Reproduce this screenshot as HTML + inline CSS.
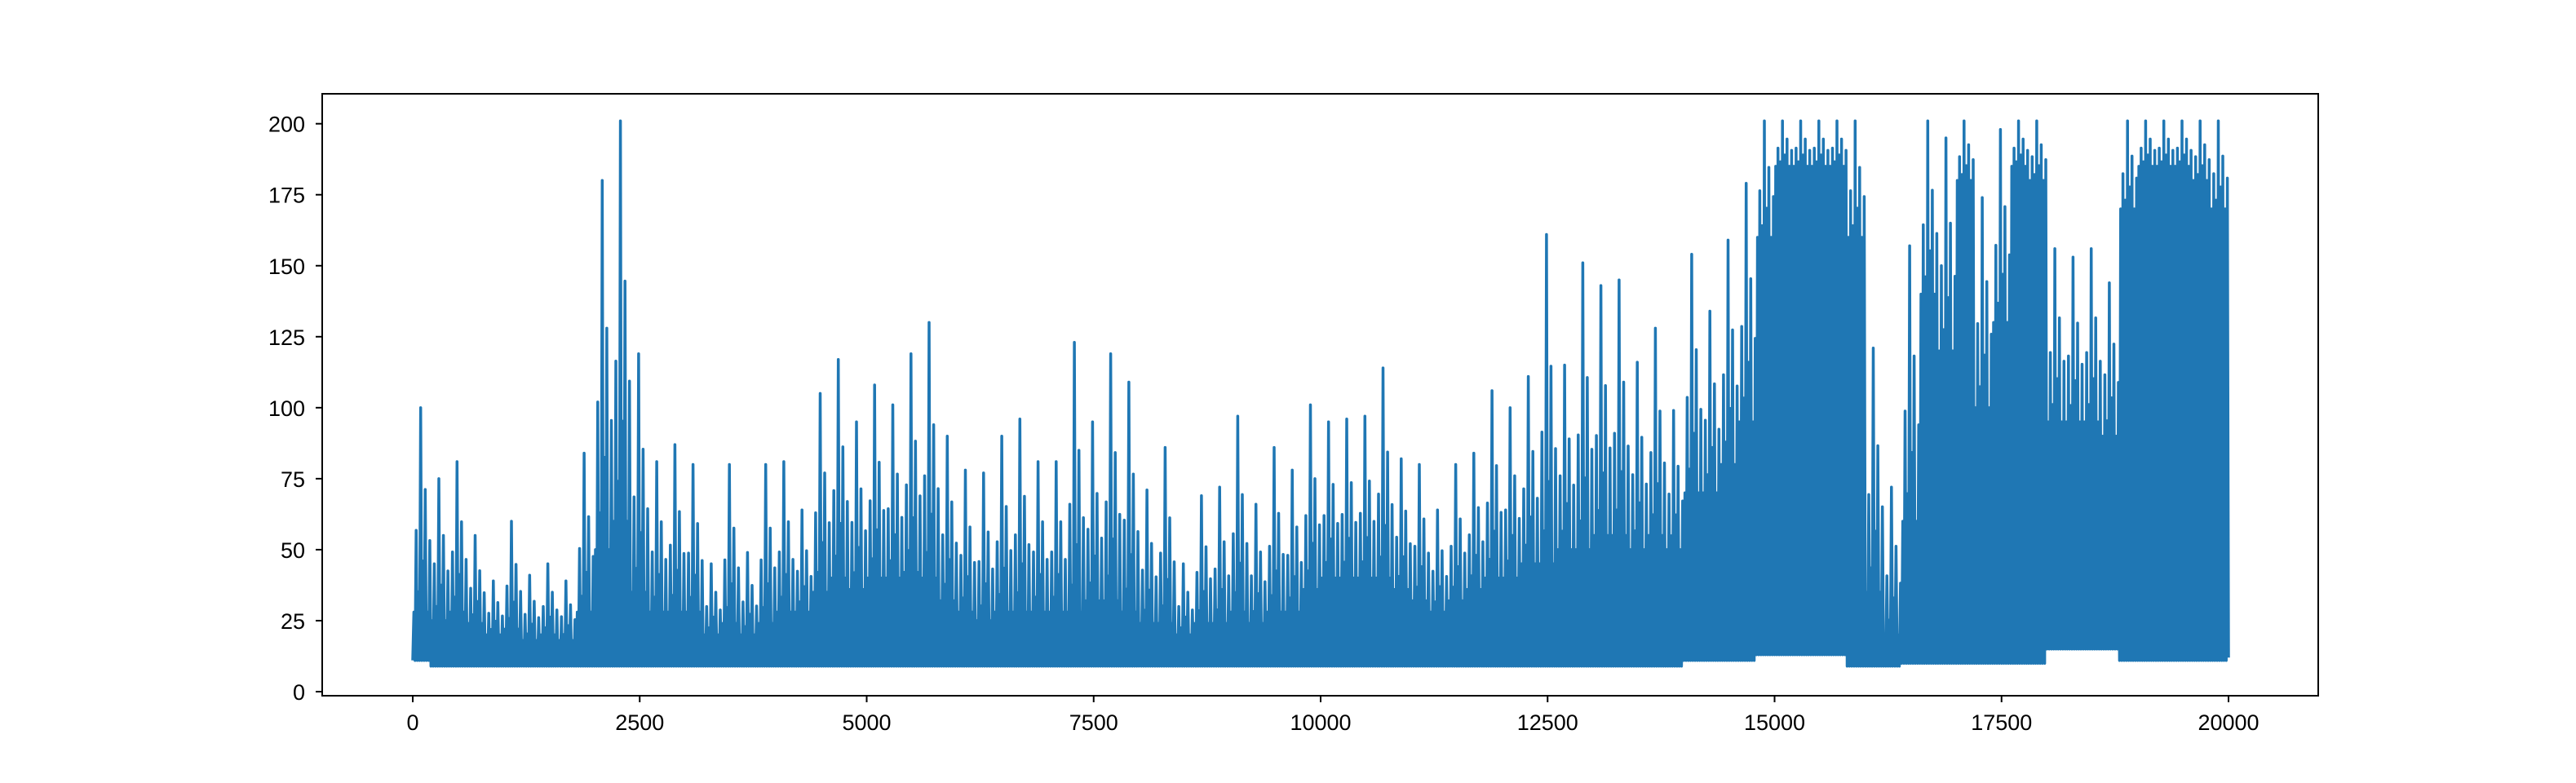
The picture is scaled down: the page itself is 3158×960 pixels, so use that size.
<!DOCTYPE html>
<html><head><meta charset="utf-8"><style>
html,body{margin:0;padding:0;background:#fff;}
svg{display:block;}
text{font-family:"Liberation Sans","DejaVu Sans",sans-serif;font-size:27px;fill:#000;}
</style></head><body>
<svg id="chart" width="3158" height="960" viewBox="0 0 3158 960">
<rect width="3158" height="960" fill="#fff"/>
<g id="series"></g>
<rect x="395" y="115" width="2447" height="738" fill="none" stroke="#000" stroke-width="2"/>
<g id="xticks"></g>
<g id="yticks"></g>
</svg>
<script>
// data: bins of 200 samples each (0..20000)
const binSize = 200;
const highs = [100,75,81,55,39,60,41,45,39,84,
180,201,119,81,87,80,45,80,49,80,
81,64,105,117,95,108,101,119,130,90,
78,77,90,96,81,81,123,95,119,109,
71,86,45,69,72,97,66,86,78,101,
95,96,97,114,82,80,64,80,84,106,
100,111,161,115,151,143,145,116,128,99,
154,134,159,179,201,201,201,201,201,201,
121,72,157,201,195,201,174,198,201,201,
156,153,156,144,201,201,201,201,201,201];
const bodies = [28,25,28,24,20,22,18,20,18,28,
50,60,35,28,28,28,20,24,20,24,
28,28,35,40,36,40,40,42,40,32,
28,25,28,28,28,28,28,32,32,28,
24,24,20,24,24,28,24,28,28,36,
40,40,40,40,36,32,28,32,36,40,
40,45,45,50,50,55,55,50,55,50,
70,70,80,95,160,185,185,185,185,160,
35,20,60,140,120,180,100,130,185,180,
95,95,95,90,170,185,185,185,180,170];
const lows = [11,9,9,9,9,9,9,9,9,9,
9,9,9,9,9,9,9,9,9,9,
9,9,9,9,9,9,9,9,9,9,
9,9,9,9,9,9,9,9,9,9,
9,9,9,9,9,9,9,9,9,9,
9,9,9,9,9,9,9,9,9,9,
9,9,9,9,9,9,9,9,9,9,
11,11,11,11,13,13,13,13,13,9,
9,9,10,10,10,10,10,10,10,10,
15,15,15,15,11,11,11,11,11,11];
const xTicks = [0,2500,5000,7500,10000,12500,15000,17500,20000];
const yTicks = [0,25,50,75,100,125,150,175,200];

const NS = "http://www.w3.org/2000/svg";
function xs(v){ return 506 + v*(2732-506)/20000; }
function ys(v){ return 848 - v*(848-151.7)/200; }

// rendering texture (fraction between body and high per sub-step)
const texture = [0,0.4,0.1,1,0.25,0.6,0,0.35];
const sg = document.getElementById('series');
let pts = [];
const sub = texture.length;
for (let i=0;i<highs.length;i++){
  const x0 = i*binSize;
  for (let k=0;k<sub;k++){
    const xv = x0 + binSize*k/sub;
    const top = bodies[i] + (highs[i]-bodies[i])*texture[k];
    pts.push(xs(xv).toFixed(1)+','+ys(lows[i]).toFixed(1));
    pts.push(xs(xv+binSize/(2*sub)).toFixed(1)+','+ys(top).toFixed(1));
  }
}
pts.push(xs(20000).toFixed(1)+','+ys(12).toFixed(1));
const pl = document.createElementNS(NS,'polyline');
pl.setAttribute('points', pts.join(' '));
pl.setAttribute('fill','none');
pl.setAttribute('stroke','#1f77b4');
pl.setAttribute('stroke-width','3.5');
pl.setAttribute('stroke-linejoin','round');


sg.appendChild(pl);

const xg = document.getElementById('xticks');
xTicks.forEach(t=>{
  const x = xs(t);
  const l = document.createElementNS(NS,'line');
  l.setAttribute('x1',x); l.setAttribute('x2',x);
  l.setAttribute('y1',853); l.setAttribute('y2',861);
  l.setAttribute('stroke','#000'); l.setAttribute('stroke-width','2');
  
  
  xg.appendChild(l);
  const tx = document.createElementNS(NS,'text');
  tx.setAttribute('x',x); tx.setAttribute('y',895);
  tx.setAttribute('text-anchor','middle');
  tx.textContent = t;
  
  
  xg.appendChild(tx);
});
const yg = document.getElementById('yticks');
yTicks.forEach(t=>{
  const y = ys(t);
  const l = document.createElementNS(NS,'line');
  l.setAttribute('x1',387); l.setAttribute('x2',395);
  l.setAttribute('y1',y); l.setAttribute('y2',y);
  l.setAttribute('stroke','#000'); l.setAttribute('stroke-width','2');
  
  
  yg.appendChild(l);
  const tx = document.createElementNS(NS,'text');
  tx.setAttribute('x',374); tx.setAttribute('y',y+10);
  tx.setAttribute('text-anchor','end');
  tx.textContent = t;
  
  
  yg.appendChild(tx);
});
</script>
</body></html>
